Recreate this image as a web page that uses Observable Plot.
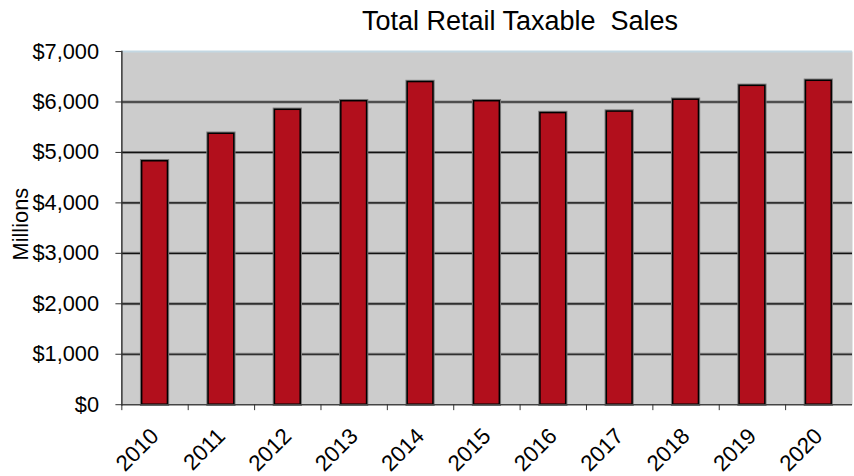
<!DOCTYPE html>
<html><head><meta charset="utf-8">
<script src="https://cdn.jsdelivr.net/npm/d3@7"></script>
<script src="https://cdn.jsdelivr.net/npm/@observablehq/plot@0.6"></script>
<style>
body{margin:0;width:854px;height:476px;overflow:hidden;background:#fff;font-family:"Liberation Sans",Arial,sans-serif;}
#wrap{position:relative;width:854px;height:476px;overflow:hidden;}
#title{position:absolute;top:8px;left:186px;width:668px;text-align:center;font-size:27px;line-height:27px;white-space:pre;color:#000;}
#chart{position:absolute;left:0;top:0;}
</style></head>
<body><div id="wrap"><div id="chart"></div><div id="title"></div></div>
<script>
const titleText = "Total Retail Taxable  Sales";
const yLabel = "Millions";
const years = ["2010","2011","2012","2013","2014","2015","2016","2017","2018","2019","2020"];
const sales = [4825, 5370, 5845, 6015, 6395, 6015, 5780, 5810, 6045, 6320, 6420];
const yTicks = [0, 1000, 2000, 3000, 4000, 5000, 6000, 7000];
const data = years.map((year, i) => ({year, value: sales[i]}));

const W = 862, ML = 122.5, MR = 2;
const step = (W - ML - MR) / years.length;

document.getElementById("title").textContent = titleText;

const plot = Plot.plot({
  width: W, height: 476,
  marginLeft: ML, marginRight: MR, marginTop: 51.5, marginBottom: 68,
  style: {fontFamily: "Liberation Sans, Arial, sans-serif", fontSize: "22px", color: "#000", background: "transparent", overflow: "visible"},
  x: {domain: years, paddingInner: 0.61, paddingOuter: 0.305, label: null},
  y: {domain: [0, 7000], label: null},
  marks: [
    Plot.frame({fill: "#cccccc", stroke: null}),
    Plot.ruleY(yTicks.slice(1, -1), {stroke: "#8c8c8c", strokeWidth: 3}),
    Plot.ruleY(yTicks.slice(1, -1), {stroke: "#111", strokeWidth: 1.2}),
    Plot.ruleY([7000], {stroke: "#c3d7e2", strokeWidth: 2}),
    Plot.barY(data, {x: "year", y: "value", fill: "none", stroke: "#7a7a7a", strokeWidth: 3.5}),
    Plot.barY(data, {x: "year", y: "value", fill: "#b20f1c", stroke: "#000", strokeWidth: 1.5}),
    Plot.ruleY([0], {stroke: "#444", strokeWidth: 1.5}),
    Plot.frame({anchor: "left", stroke: "#333", strokeWidth: 1.5}),
    Plot.axisY({ticks: yTicks, tickFormat: d3.format("$,"), tickSize: 6, tickPadding: 17, stroke: "#333", fontSize: 22, label: null}),
    Plot.axisX({tickSize: 6, tickFormat: () => "", dx: -step / 2, stroke: "#333", label: null}),
    Plot.axisX({tickSize: 0, tickRotate: -45, tickPadding: 28, fontSize: 22.5, label: null}),
    Plot.text([yLabel], {frameAnchor: "left", text: d => d, rotate: -90, textAnchor: "middle", dx: -102, dy: -4, fontSize: 22})
  ]
});
document.getElementById("chart").appendChild(plot);
</script>
</body></html>
